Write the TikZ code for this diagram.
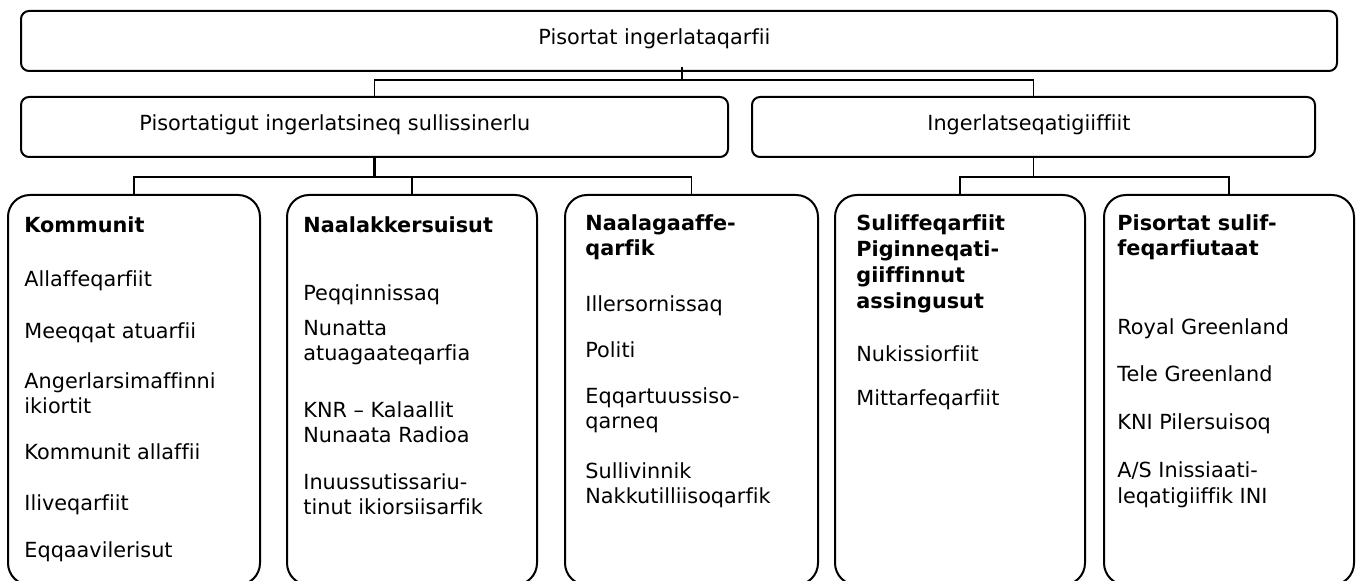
\documentclass[tikz,border=0pt]{standalone}
\usepackage{fontspec}
\setmainfont[Ligatures=NoCommon]{DejaVu Sans}
\usetikzlibrary{calc}
\tikzset{
  box/.style={draw, line width=1pt, inner sep=0pt, rounded corners=4pt, minimum height=30pt},
  bigbox/.style={draw, line width=1pt, inner sep=0pt, rounded corners=11pt, minimum height=195pt},
  txt/.style={anchor=base west, inner sep=0pt, font=\fontsize{10.4pt}{12.5pt}\selectfont},
  head/.style={anchor=base west, inner sep=0pt, font=\fontsize{10.4pt}{12.5pt}\selectfont\bfseries},
  conn/.style={line width=0.8pt},
}
\newcommand\lineat[5][txt]{\node[#1] (#2) at (#3,#4) {#5};}
\begin{document}
\begin{tikzpicture}[x=0.5pt,y=-0.5pt]
\useasboundingbox (0,0) rectangle (1359,581);
\begin{scope}
\clip (0,0) rectangle (1359,581);
% boxes
\node[box, minimum width=658pt] (top) at (679,41) {};
\node[box, minimum width=353.5pt] (L2) at (374.5,127) {};
\node[box, minimum width=281.5pt] (R2) at (1033.5,127) {};
\node[bigbox, minimum width=126pt] (b1) at (134,390) {};
\node[bigbox, minimum width=125pt] (b2) at (412,390) {};
\node[bigbox, minimum width=126.5pt] (b3) at (691.5,390) {};
\node[bigbox, minimum width=125pt] (b4) at (960,390) {};
\node[bigbox, minimum width=125pt] (b5) at (1229,390) {};
% connectors
\coordinate (j0) at (682,80);
\draw[conn] ([yshift=2.5pt]top.south -| j0) -- (j0);
\draw[conn] (L2.north) |- (j0) -| (R2.north);
\coordinate (j1) at ($(L2.south)+(0,19)$);
\draw[conn, line width=1.2pt] (L2.south) -- (j1);
\draw[conn] (b1.north) |- (j1) -| (b3.north);
\draw[conn] (b2.north) -- (b2.north |- j1);
\coordinate (j2) at ($(R2.south)+(0,19)$);
\draw[conn] (R2.south) -- (j2);
\draw[conn] (b4.north) |- (j2) -| (b5.north);
% top texts
\lineat{t0}{538}{45}{Pisortat ingerlataqarfii}
\lineat{tL}{139}{131}{Pisortatigut ingerlatsineq sullissinerlu}
\lineat{tR}{927}{131}{Ingerlatseqatigiiffiit}
% box 1
\lineat[head]{a1}{24}{233}{Kommunit}
\lineat{a2}{24}{287}{Allaffeqarfiit}
\lineat{a3}{24}{339}{Meeqqat atuarfii}
\lineat{a4}{24}{389}{Angerlarsimaffinni}
\lineat{a5}{24}{414}{ikiortit}
\lineat{a6}{24}{460}{Kommunit allaffii}
\lineat{a7}{24}{511}{Iliveqarfiit}
\lineat{a8}{24}{558}{Eqqaavilerisut}
% box 2
\lineat[head]{c1}{303}{233}{Naalakkersuisut}
\lineat{c2}{303}{301}{Peqqinnissaq}
\lineat{c3}{303}{336}{Nunatta}
\lineat{c4}{303}{361}{atuagaateqarfia}
\lineat{c5}{303}{418}{KNR – Kalaallit}
\lineat{c6}{303}{443}{Nunaata Radioa}
\lineat{c7}{303}{490}{Inuussutissariu-}
\lineat{c8}{303}{515}{tinut ikiorsiisarfik}
% box 3
\lineat[head]{d1}{585}{231}{Naalagaaffe-}
\lineat[head]{d2}{585}{256}{qarfik}
\lineat{d3}{585}{312}{Illersornissaq}
\lineat{d4}{585}{358}{Politi}
\lineat{d5}{585}{404}{Eqqartuussiso-}
\lineat{d6}{585}{429}{qarneq}
\lineat{d7}{585}{479}{Sullivinnik}
\lineat{d8}{585}{504}{Nakkutilliisoqarfik}
% box 4
\lineat[head]{e1}{856}{231}{Suliffeqarfiit}
\lineat[head]{e2}{856}{257}{Piginneqati-}
\lineat[head]{e3}{856}{283}{giiffinnut}
\lineat[head]{e4}{856}{309}{assingusut}
\lineat{e5}{856}{362}{Nukissiorfiit}
\lineat{e6}{856}{406}{Mittarfeqarfiit}
% box 5
\lineat[head]{f1}{1117}{231}{Pisortat sulif-}
\lineat[head]{f2}{1117}{256}{feqarfiutaat}
\lineat{f3}{1117}{335}{Royal Greenland}
\lineat{f4}{1117}{382}{Tele Greenland}
\lineat{f5}{1117}{430}{KNI Pilersuisoq}
\lineat{f6}{1117}{478}{A/S Inissiaati-}
\lineat{f7}{1117}{504}{leqatigiiffik INI}
\end{scope}
\end{tikzpicture}
\end{document}
